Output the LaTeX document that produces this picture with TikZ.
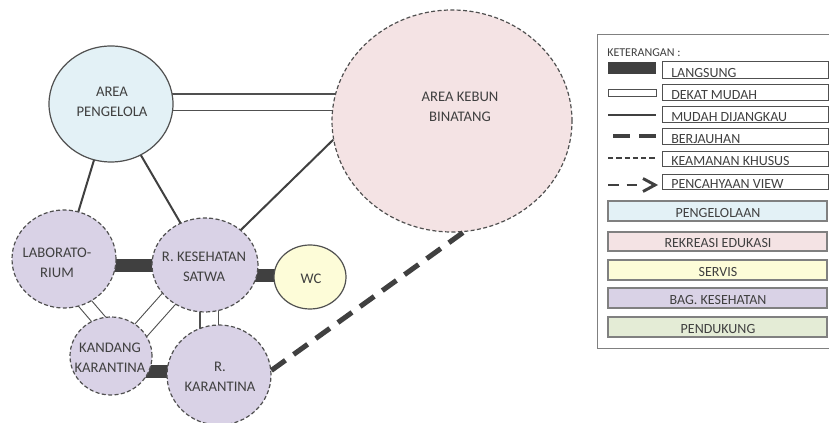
\documentclass[tikz,border=0pt]{standalone}
\usepackage{fontspec}
\setmainfont{Carlito}
\usetikzlibrary{shapes.geometric,calc,backgrounds}
\definecolor{ink}{HTML}{404040}
\definecolor{edge}{HTML}{505050}
\definecolor{cPeng}{HTML}{E3F1F6}
\definecolor{cRek}{HTML}{F4E3E4}
\definecolor{cServ}{HTML}{FDFCD8}
\definecolor{cKes}{HTML}{D9D2E6}
\definecolor{cPend}{HTML}{E4ECD6}
\begin{document}
\begin{tikzpicture}[x=0.75pt,y=-0.75pt,
  zone/.style={ellipse,inner sep=0pt,draw=edge,line width=0.9pt},
  solidzone/.style={zone},
  securezone/.style={zone,dash pattern=on 3pt off 1.8pt},
  lbl/.style={text=ink,align=center,font=\fontsize{11}{15}\selectfont,inner sep=0pt},
  langsung/.style={draw=ink,line width=9.75pt},
  dekat/.style={draw=edge,line width=0.8pt,double=white,double distance=11.5pt},
  mudah/.style={draw=ink,line width=1.5pt},
  jauh/.style={draw=ink,line width=3.8pt,dash pattern=on 13pt off 7.5pt},
  keybox/.style={draw=edge,line width=0.75pt},
  keytxt/.style={text=ink,anchor=base west,inner sep=0pt,font=\fontsize{10.5}{12}\selectfont},
  colbox/.style={draw=gray,line width=0.9pt},
  coltxt/.style={text=ink,anchor=base,inner sep=0pt,font=\fontsize{10.5}{12}\selectfont}]
\useasboundingbox (0,0) rectangle (829,423);

% zones
\node[solidzone,fill=cPeng,minimum width=93pt,minimum height=87pt] (peng) at (111,104) {};
\node[securezone,fill=cRek,minimum width=180pt,minimum height=166.5pt] (kebun) at (452,121) {};
\node[securezone,fill=cKes,minimum width=78pt,minimum height=73.5pt] (lab) at (64,259) {};
\node[securezone,fill=cKes,minimum width=79.5pt,minimum height=70.5pt] (kes) at (205,265) {};
\node[solidzone,fill=cServ,minimum width=54pt,minimum height=48pt] (wc) at (310,277) {};
\node[securezone,fill=cKes,minimum width=61.5pt,minimum height=58.5pt] (kand) at (111,356) {};
\node[securezone,fill=cKes,minimum width=78pt,minimum height=75pt] (rkar) at (219,375) {};

% zone names
\node[lbl] (peng-t) at ($(peng.center)+(1,-2)$) {AREA\\PENGELOLA};
\node[lbl] (kebun-t) at ($(kebun.center)+(8,-14.5)$) {AREA KEBUN\\BINATANG};
\node[lbl] (lab-t) at ($(lab.center)+(-7,4)$) {LABORATO-\\RIUM};
\node[lbl] (kes-t) at ($(kes.center)+(-1,2)$) {R. KESEHATAN\\SATWA};
\node[lbl] (wc-t) at ($(wc.center)+(1,2)$) {WC};
\node[lbl] (kand-t) at ($(kand.center)+(-1,2)$) {KANDANG\\KARANTINA};
\node[lbl] (rkar-t) at ($(rkar.center)+(1,2)$) {R.\\KARANTINA};

% relations, drawn behind the zones
\begin{pgfonlayer}{background}
  \draw[dekat,double distance=11.9pt] ($(peng.center)+(0,-1.5)$) -- ($(peng.center -| kebun.center)+(0,-1.5)$);
  \draw[mudah] (peng.center) -- (lab.center);
  \draw[mudah] (peng.center) -- (kes.center);
  \draw[mudah] (kebun.189) -- (kes.center);
  \draw[langsung] ($(lab.center)+(0,7)$) -- ($(lab.center -| kes.center)+(0,7)$);
  \draw[langsung] ($(wc.center)+(0,-1.5)$) -- ($(wc.center -| kes.center)+(0,-1.5)$);
  \draw[langsung] ($(kand.center)+(0,15.5)$) -- ($(kand.center -| rkar.center)+(0,15.5)$);
  \draw[dekat,double distance=9.3pt] ($(lab.center)+(-17,0)$) -- ($(kand.center)+(19,0)$);
  \draw[dekat,double distance=12pt] ($(kes.center)+(-6,0)$) -- ($(kand.center)+(7,0)$);
  \draw[dekat,double distance=12.75pt] ($(rkar.center)+(-10,0)$) -- ($(rkar.center |- kes.center)+(-10,0)$);
\end{pgfonlayer}
\draw[jauh] (rkar.5) -- (kebun.276);

% legend
\draw[draw=gray,line width=0.75pt] (597,35) rectangle (832,349);
\node[text=ink,anchor=base west,inner sep=0pt,font=\fontsize{9}{10}\selectfont] (ket) at (607,57) {KETERANGAN :};

\fill[ink] (608,62) rectangle (656,74);
\draw[keybox,fill=white] (608,90) rectangle (656,97);
\draw[ink,line width=1.5pt] (608,115) -- (656,115);
\draw[ink,line width=3.6pt,dash pattern=on 12.5pt off 7pt] (613,136) -- (656,136);
\draw[ink,line width=1.2pt,dash pattern=on 4pt off 2.2pt] (608,158) -- (656,158);
\draw[ink,line width=2.2pt,dash pattern=on 8pt off 6pt] (608,185) -- (640,185);
\draw[ink,line width=2.2pt] (643,178.5) -- (655,185) -- (643,191.5);

\draw[keybox] (662,62) rectangle (828,79);
\draw[keybox] (662,85) rectangle (828,101);
\draw[keybox] (662,107) rectangle (828,123);
\draw[keybox] (662,129) rectangle (828,145);
\draw[keybox] (662,152) rectangle (828,167);
\draw[keybox] (662,175) rectangle (828,190);
\node[keytxt] (k1) at (671,78) {LANGSUNG};
\node[keytxt] (k2) at (671,100) {DEKAT MUDAH};
\node[keytxt] (k3) at (671,122) {MUDAH DIJANGKAU};
\node[keytxt] (k4) at (671,144) {BERJAUHAN};
\node[keytxt] (k5) at (671,166) {KEAMANAN KHUSUS};
\node[keytxt] (k6) at (671,189) {PENCAHYAAN VIEW};

\draw[colbox,fill=cPeng] (608,201) rectangle (827,221);
\draw[colbox,fill=cRek] (608,232) rectangle (827,251);
\draw[colbox,fill=cServ] (608,260) rectangle (827,280);
\draw[colbox,fill=cKes] (608,288) rectangle (827,308);
\draw[colbox,fill=cPend] (608,317) rectangle (827,337);
\node[coltxt] (c1) at (718,218) {PENGELOLAAN};
\node[coltxt] (c2) at (718,248) {REKREASI EDUKASI};
\node[coltxt] (c3) at (718,277) {SERVIS};
\node[coltxt] (c4) at (718,305) {BAG. KESEHATAN};
\node[coltxt] (c5) at (718,334) {PENDUKUNG};
\end{tikzpicture}
\end{document}
